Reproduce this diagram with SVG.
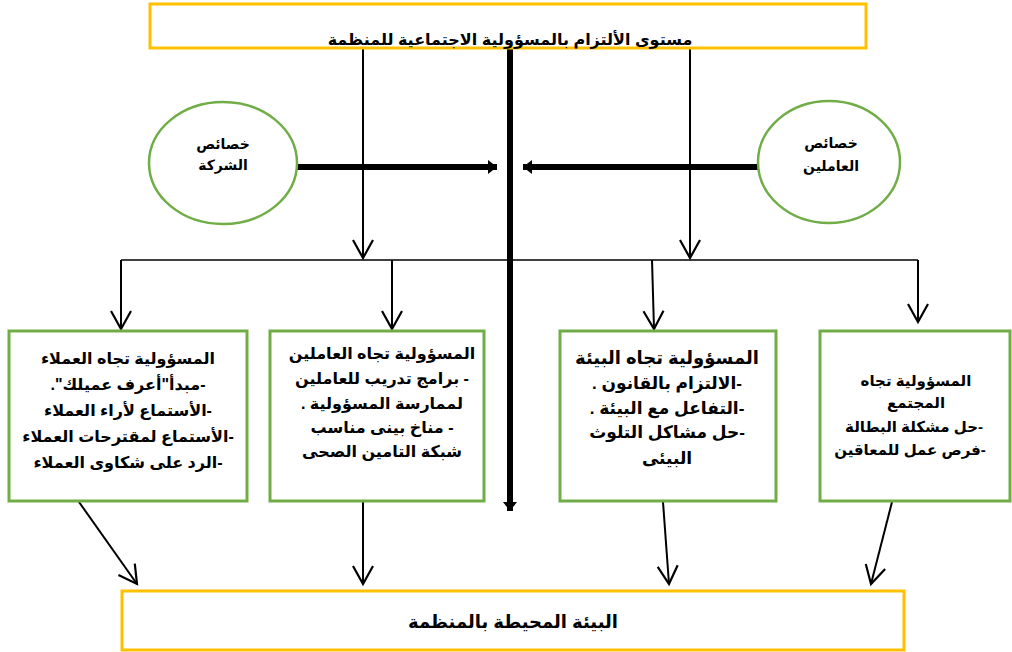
<svg xmlns="http://www.w3.org/2000/svg" width="1012" height="652" viewBox="0 0 1012 652">
<style>
.ybox{fill:#fff;stroke:#FFC000;stroke-width:3}
.gbox{fill:#fff;stroke:#70AD47;stroke-width:3}
.ell{fill:#fff;stroke:#70AD47;stroke-width:2.5}
.t{font-family:"Liberation Sans","DejaVu Sans",sans-serif;font-weight:bold;fill:#000;text-anchor:middle;direction:rtl}
.thin{stroke:#000;stroke-width:2;fill:none}
.thick{stroke:#000;stroke-width:6;fill:none}
</style>
<defs>
<marker id="v" markerUnits="userSpaceOnUse" markerWidth="24" markerHeight="24" viewBox="-20 -12 22 24" refX="0" refY="0" orient="auto" overflow="visible">
<path d="M-18,-10 L0,0 L-18,10" fill="none" stroke="#000" stroke-width="2.2"/>
</marker>
<marker id="tri" markerUnits="userSpaceOnUse" markerWidth="14" markerHeight="16" viewBox="-10 -8 12 16" refX="0" refY="0" orient="auto" overflow="visible">
<path d="M-9,-7 L0,0 L-9,7 Z" fill="#000"/>
</marker>
</defs>

<g id="connectors">
<line class="thin" x1="363" y1="48" x2="363" y2="258" marker-end="url(#v)"/>
<line class="thin" x1="690" y1="48" x2="690" y2="258" marker-end="url(#v)"/>
<line class="thick" x1="510" y1="48" x2="510" y2="511" stroke-width="5" marker-end="url(#tri)"/>
<line class="thick" x1="296" y1="167" x2="497" y2="167" marker-end="url(#tri)"/>
<line class="thick" x1="758" y1="167" x2="523" y2="167" marker-end="url(#tri)"/>
<line stroke="#000" stroke-width="1.5" x1="121" y1="260" x2="918" y2="260"/>
<line class="thin" x1="121" y1="260" x2="121" y2="329" marker-end="url(#v)"/>
<line class="thin" x1="392" y1="260" x2="392" y2="329" marker-end="url(#v)"/>
<line class="thin" x1="652" y1="260" x2="654" y2="329" marker-end="url(#v)"/>
<line class="thin" x1="918" y1="260" x2="918" y2="322" marker-end="url(#v)"/>
<line class="thin" x1="79" y1="502" x2="137" y2="584" marker-end="url(#v)"/>
<line class="thin" x1="363" y1="502" x2="363" y2="584" marker-end="url(#v)"/>
<line class="thin" x1="663" y1="502" x2="669" y2="584" marker-end="url(#v)"/>
<line class="thin" x1="892" y1="502" x2="871" y2="584" marker-end="url(#v)"/>
</g>

<g id="top">
<rect class="ybox" x="150" y="4" width="716" height="44"/>
<text class="t" x="510" y="45" font-size="16">مستوى الألتزام بالمسؤولية الاجتماعية للمنظمة</text>
</g>

<g id="company">
<ellipse class="ell" cx="223" cy="163" rx="74" ry="61"/>
<text class="t" x="223" y="149" font-size="14">خصائص</text>
<text class="t" x="223" y="170" font-size="14">الشركة</text>
</g>

<g id="employees">
<ellipse class="ell" cx="829" cy="162" rx="71" ry="61"/>
<text class="t" x="831" y="148" font-size="14">خصائص</text>
<text class="t" x="831" y="171" font-size="14">العاملين</text>
</g>

<g id="customers">
<rect class="gbox" x="9" y="331" width="238" height="170"/>
<text class="t" x="128" y="364" font-size="16">المسؤولية تجاه العملاء</text>
<text class="t" x="128" y="390" font-size="16">-مبدأ"أعرف عميلك".</text>
<text class="t" x="128" y="416" font-size="16">-الأستماع لأراء العملاء</text>
<text class="t" x="128" y="442" font-size="16">-الأستماع لمقترحات العملاء</text>
<text class="t" x="128" y="468" font-size="16">-الرد على شكاوى العملاء</text>
</g>

<g id="workers">
<rect class="gbox" x="270" y="331" width="214" height="170"/>
<text class="t" x="382" y="359" font-size="16">المسؤولية تجاه العاملين</text>
<text class="t" x="382" y="384" font-size="16">- برامج تدريب للعاملين</text>
<text class="t" x="382" y="409" font-size="16">لممارسة المسؤولية .</text>
<text class="t" x="382" y="433" font-size="16">-  مناخ بينى مناسب</text>
<text class="t" x="382" y="457" font-size="16">شبكة التامين الصحى</text>
</g>

<g id="environment">
<rect class="gbox" x="560" y="331" width="216" height="170"/>
<text class="t" x="667" y="364" font-size="18">المسؤولية تجاه البيئة</text>
<text class="t" x="667" y="389" font-size="17">-الالتزام بالقانون .</text>
<text class="t" x="667" y="414" font-size="17">-التفاعل مع البيئة .</text>
<text class="t" x="667" y="438" font-size="17">-حل مشاكل التلوث</text>
<text class="t" x="667" y="464" font-size="17">البيئى</text>
</g>

<g id="society">
<rect class="gbox" x="820" y="331" width="190" height="170"/>
<text class="t" x="916" y="386" font-size="15">المسؤولية تجاه</text>
<text class="t" x="916" y="408" font-size="15">المجتمع</text>
<text class="t" x="914" y="432" font-size="15">-حل مشكلة البطالة</text>
<text class="t" x="910" y="455" font-size="15">-فرص عمل للمعاقين</text>
</g>

<g id="surroundings">
<rect class="ybox" x="122" y="591" width="782" height="59"/>
<text class="t" x="513" y="628" font-size="18">البيئة المحيطة بالمنظمة</text>
</g>
</svg>
